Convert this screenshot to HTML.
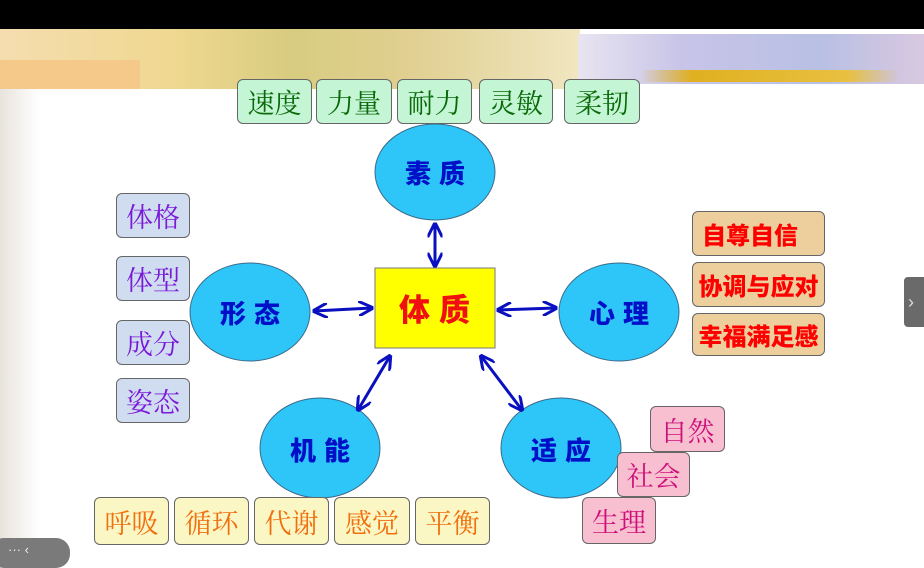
<!DOCTYPE html>
<html><head><meta charset="utf-8"><style>
body{margin:0;width:924px;height:562px;overflow:hidden;background:#fff;position:relative;font-family:"Liberation Sans","Noto Sans CJK SC",sans-serif}
.b{position:absolute;border:1px solid #666;border-radius:6px;box-sizing:border-box;display:flex;align-items:center;justify-content:center;font-family:"Noto Serif CJK SC","Noto Sans CJK SC",serif;font-size:27px}
.g{background:#c4f5d4;color:#0a6a0a}
.p{background:#d0dcf0;color:#7a1ad8}
.o{background:#edcf9e;color:#f00;font-family:"Noto Sans CJK SC",sans-serif;font-weight:900;font-size:24px}
.y{background:#fbf7c4;color:#f07010}
.k{background:#f7bfd0;color:#d0107a}
</style></head><body>
<div style="position:absolute;left:0;top:0;width:924px;height:29px;background:#000"></div>
<div style="position:absolute;left:0;top:29px;width:580px;height:60px;background:linear-gradient(90deg,#f5ddb0,#efd890 30%,#d8cc80 50%,#e0cf90 70%,#f0e6c0)"></div>
<div style="position:absolute;left:0;top:60px;width:140px;height:29px;background:#f5c98a"></div>
<div style="position:absolute;left:578px;top:34px;width:346px;height:50px;background:linear-gradient(90deg,#e8e4f0,#c8c4e8 30%,#b8c0e4 70%,#d8c8e0)"></div>
<div style="position:absolute;left:640px;top:70px;width:260px;height:12px;background:linear-gradient(90deg,rgba(230,180,20,0),#e0b020 20%,#e8c040 80%,rgba(230,180,20,0))"></div>
<div style="position:absolute;left:0;top:89px;width:40px;height:473px;background:linear-gradient(90deg,#e8e4dc,#fff)"></div>
<svg width="924" height="562" style="position:absolute;left:0;top:0">
<defs><marker id="a" viewBox="0 0 10 10" refX="9" refY="5" markerWidth="5" markerHeight="5" orient="auto-start-reverse"><path d="M0,0 L10,5 L0,10" fill="none" stroke="#0a10c0" stroke-width="2"/></marker></defs>
<g fill="#2ec6f8" stroke="#3a6a8a" stroke-width="1">
<ellipse cx="435" cy="172" rx="60" ry="48"/>
<ellipse cx="250" cy="312" rx="60" ry="49"/>
<ellipse cx="619" cy="312" rx="60" ry="49"/>
<ellipse cx="320" cy="448" rx="60" ry="50"/>
<ellipse cx="561" cy="448" rx="60" ry="50"/>
</g>
<rect x="375" y="268" width="120" height="80" fill="#ffff00" stroke="#777"/>
<g stroke="#0a10c0" stroke-width="3" marker-start="url(#a)" marker-end="url(#a)">
<line x1="435" y1="224" x2="435" y2="266"/>
<line x1="314" y1="311" x2="372" y2="308"/>
<line x1="498" y1="310" x2="556" y2="308"/>
<line x1="390" y1="356" x2="358" y2="410"/>
<line x1="481" y1="356" x2="522" y2="410"/>
</g>
<g font-family="Noto Sans CJK SC,sans-serif" font-weight="900" font-size="26" fill="#0010c8" text-anchor="middle" letter-spacing="8">
<text x="439" y="183">素质</text>
<text x="254" y="323">形态</text>
<text x="623" y="323">心理</text>
<text x="324" y="460">机能</text>
<text x="565" y="460">适应</text>
</g>
<text x="439" y="321" font-family="Noto Sans CJK SC,sans-serif" font-weight="900" font-size="31" fill="#f01010" text-anchor="middle" letter-spacing="9">体质</text>
</svg>
<div class="b g" style="left:237px;top:79px;width:75px;height:45px">速度</div>
<div class="b g" style="left:316px;top:79px;width:76px;height:45px">力量</div>
<div class="b g" style="left:397px;top:79px;width:75px;height:45px">耐力</div>
<div class="b g" style="left:479px;top:79px;width:74px;height:45px">灵敏</div>
<div class="b g" style="left:564px;top:79px;width:76px;height:45px">柔韧</div>
<div class="b p" style="left:116px;top:193px;width:74px;height:45px">体格</div>
<div class="b p" style="left:116px;top:256px;width:74px;height:45px">体型</div>
<div class="b p" style="left:116px;top:320px;width:74px;height:45px">成分</div>
<div class="b p" style="left:116px;top:378px;width:74px;height:45px">姿态</div>
<div class="b o" style="left:692px;top:211px;width:133px;height:45px;justify-content:flex-start;padding-left:9px">自尊自信</div>
<div class="b o" style="left:692px;top:262px;width:133px;height:45px">协调与应对</div>
<div class="b o" style="left:692px;top:313px;width:133px;height:43px">幸福满足感</div>
<div class="b y" style="left:94px;top:497px;width:75px;height:48px">呼吸</div>
<div class="b y" style="left:174px;top:497px;width:75px;height:48px">循环</div>
<div class="b y" style="left:254px;top:497px;width:75px;height:48px">代谢</div>
<div class="b y" style="left:334px;top:497px;width:76px;height:48px">感觉</div>
<div class="b y" style="left:415px;top:497px;width:75px;height:48px">平衡</div>
<div class="b k" style="left:650px;top:406px;width:75px;height:46px">自然</div>
<div class="b k" style="left:617px;top:452px;width:73px;height:45px">社会</div>
<div class="b k" style="left:582px;top:497px;width:74px;height:47px">生理</div>
<div style="position:absolute;left:904px;top:277px;width:24px;height:50px;background:#6a6a6a;border-radius:4px;color:#ddd;font-size:18px;line-height:50px;padding-left:4px;box-sizing:border-box">›</div>
<div style="position:absolute;left:-10px;top:538px;width:80px;height:30px;background:#7a7a7a;border-radius:14px;color:#eee;font-size:13px;line-height:24px;padding-left:18px;box-sizing:border-box">··· ‹</div>
</body></html>
